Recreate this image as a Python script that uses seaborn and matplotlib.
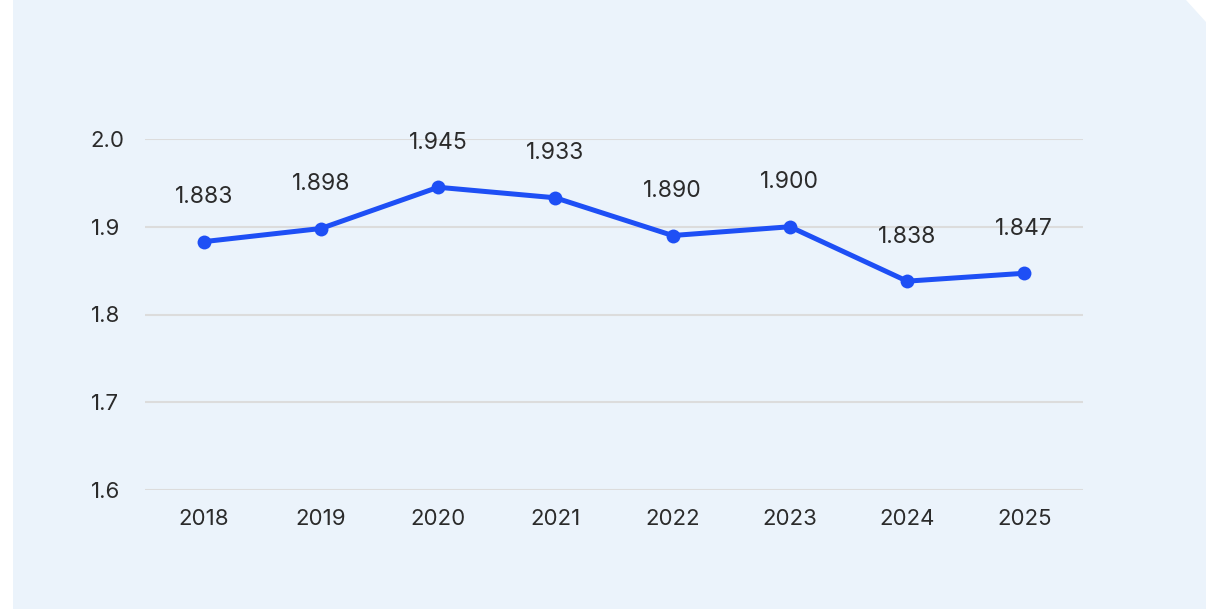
import matplotlib
matplotlib.use("Agg")
import matplotlib.pyplot as plt
from matplotlib.patches import Polygon
import pandas as pd
import seaborn as sns

# Data
years = ["2018", "2019", "2020", "2021", "2022", "2023", "2024", "2025"]
values = [1.883, 1.898, 1.945, 1.933, 1.890, 1.900, 1.838, 1.847]
y_ticks = [1.6, 1.7, 1.8, 1.9, 2.0]

df = pd.DataFrame({"year": years, "value": values})

sns.set_theme(style="white")
plt.rcParams["font.family"] = ["Inter", "DejaVu Sans"]

W, H = 1206, 609
fig = plt.figure(figsize=(W / 100, H / 100), dpi=100)
fig.patch.set_facecolor("white")

# light blue panel with a clipped top-right corner
panel = Polygon(
    [(13, 0), (13, H), (1186, H), (W, H - 22), (W, 0)],
    closed=True, transform=None, facecolor="#EBF3FB", edgecolor="none", zorder=-10,
)
fig.patches.append(panel)

ax = fig.add_axes([145 / W, 1 - 490 / H, (1083 - 145) / W, (490 - 139) / H])
ax.set_facecolor("none")
ax.set_zorder(5)

line_color = "#1E4FF5"
sns.lineplot(
    data=df, x="year", y="value", ax=ax, color=line_color, linewidth=3.6,
    marker="o", markersize=10, markeredgewidth=0, clip_on=False, zorder=3,
)

for i, v in enumerate(values):
    ax.annotate(f"{v:.3f}", (i, v), xytext=(0, 32), textcoords="offset points",
                ha="center", va="center", fontsize=16.5, color="#2B2B2B",
                annotation_clip=False)

ax.set_xlim(-0.5, len(years) - 0.5)
ax.set_ylim(1.6, 2.0)
ax.set_yticks(y_ticks)
ax.set_yticklabels([f"{t:.1f}" for t in y_ticks])
ax.yaxis.grid(True, color="#DCDCDC", linewidth=1.5)
ax.xaxis.grid(False)
ax.set_axisbelow(True)
for s in ax.spines.values():
    s.set_visible(False)

ax.tick_params(axis="x", length=0, pad=14, labelsize=16, labelcolor="#2B2B2B")
ax.tick_params(axis="y", length=0, pad=39, labelsize=16, labelcolor="#2B2B2B")
for lbl in ax.get_yticklabels():
    lbl.set_horizontalalignment("left")
ax.set_xlabel("")
ax.set_ylabel("")

fig.savefig("out.png", dpi=100, facecolor=fig.get_facecolor())
